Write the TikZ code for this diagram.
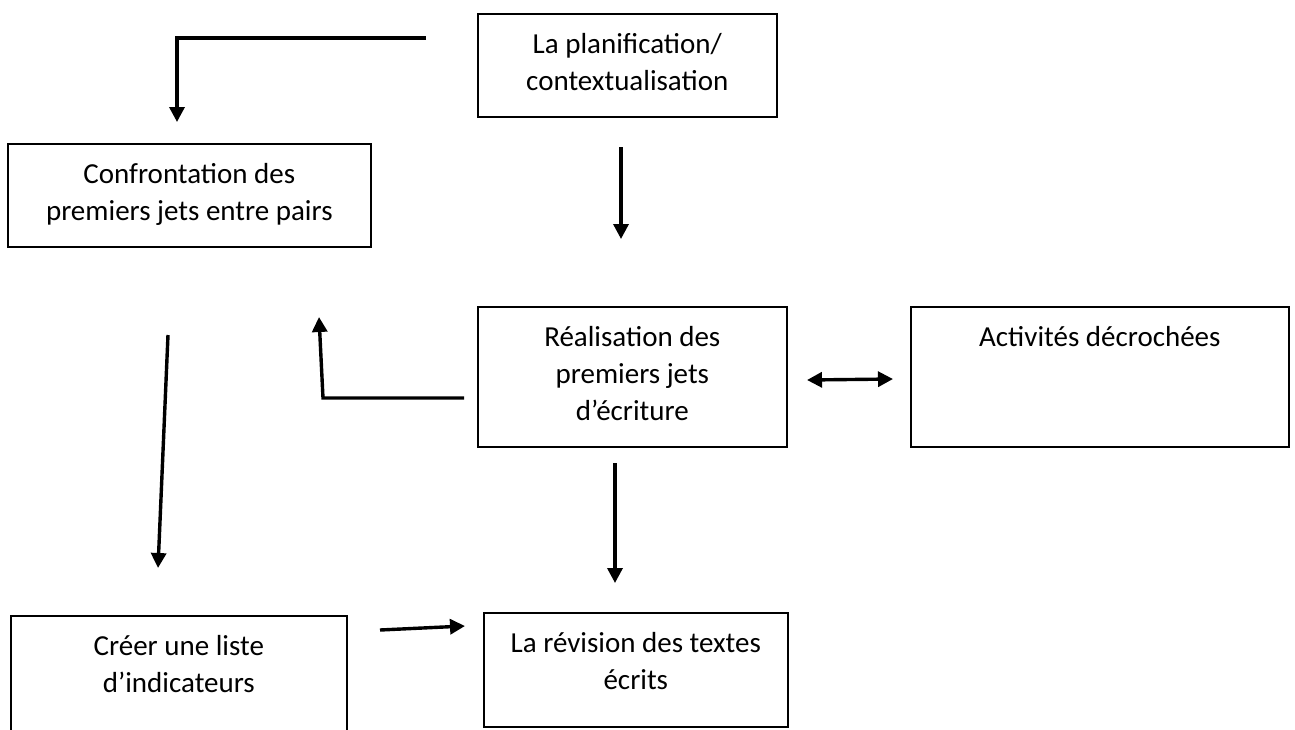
\documentclass[tikz,border=0pt]{standalone}
\usepackage{fontspec}
\setmainfont{Carlito}
\usepackage{tikz}
\usetikzlibrary{arrows.meta}

\newcommand{\boxtext}[3]{\parbox[c][#2pt][t]{#1pt}{\centering\rule{0pt}{40pt}#3}}

\begin{document}
\begin{tikzpicture}[x=1pt,y=-1pt,
            step-node/.style={draw,line width=1.6pt,inner sep=0pt,anchor=north west,
                font=\fontsize{29}{37}\selectfont},
            flow/.style={line width=3.4pt,-{Triangle[width=15pt,length=15pt]}},
        ]
            \useasboundingbox (0,0) rectangle (1295,729);

            \node[step-node] (plan) at (477,13) {\boxtext{299}{103}{La planification/\\contextualisation}};
            \node[step-node] (conf) at (7,143) {\boxtext{363}{103}{Confrontation des\\premiers jets entre pairs}};
            \node[step-node] (real) at (477,306) {\boxtext{309}{140}{Réalisation des\\premiers jets\\d’écriture}};
            \node[step-node] (act) at (910,306) {\boxtext{378}{140}{Activités décrochées}};
            \node[step-node] (creer) at (10,615) {\boxtext{336}{130}{Créer une liste\\d’indicateurs}};
            \node[step-node] (rev) at (483,612) {\boxtext{304}{114}{La révision des textes\\écrits}};

            \coordinate (plan-out) at (426,38);
            \coordinate (conf-in) at (177,122);
            \coordinate (plan-down) at (621,147);
            \coordinate (real-in) at (621,239);
            \coordinate (real-out) at (464,398);
            \coordinate (real-bend) at (323,398);
            \coordinate (conf-back) at (319,317);
            \coordinate (act-l) at (807,380);
            \coordinate (act-r) at (893,379);
            \coordinate (conf-down) at (168,335);
            \coordinate (creer-in) at (158,568);
            \coordinate (real-down) at (615,463);
            \coordinate (rev-in) at (615,583);
            \coordinate (creer-out) at (380,630);
            \coordinate (rev-left) at (465,626);

            \draw[flow] (plan-out) -| (conf-in);
            \draw[flow] (plan-down) -- (real-in);
            \draw[flow] (real-out) -- (real-bend) -- (conf-back);
            \draw[flow,{Triangle[width=15pt,length=15pt]}-{Triangle[width=15pt,length=15pt]}] (act-l) -- (act-r);
            \draw[flow] (conf-down) -- (creer-in);
            \draw[flow] (real-down) -- (rev-in);
            \draw[flow] (creer-out) -- (rev-left);
        \end{tikzpicture}
\end{document}
